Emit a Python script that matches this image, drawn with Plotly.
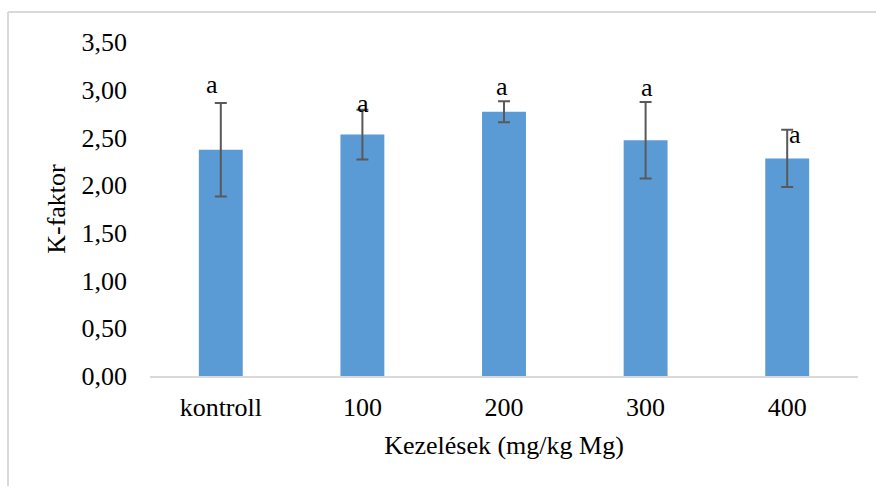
import plotly.graph_objects as go

categories = ["kontroll", "100", "200", "300", "400"]
k_factor = [2.37, 2.53, 2.77, 2.47, 2.28]
k_error = [0.49, 0.26, 0.11, 0.40, 0.30]
letters = ["a", "a", "a", "a", "a"]
letter_y = [3.05, 2.86, 3.03, 3.02, 2.53]
letter_dx = [-9, 1, -2, 1, 8]
y_ticks = [0, 0.5, 1.0, 1.5, 2.0, 2.5, 3.0, 3.5]
y_ticklabels = ["0,00", "0,50", "1,00", "1,50", "2,00", "2,50", "3,00", "3,50"]

W, H = 876, 486
ML, MR, MT, MB = 150, 18, 42, 110
FONT = "Liberation Serif, Times New Roman, serif"

fig = go.Figure()
fig.add_trace(go.Bar(
    x=categories, y=k_factor, width=0.31,
    marker=dict(color="#5B9BD5", line=dict(width=0)),
    error_y=dict(type="data", array=k_error, visible=True,
                 color="#595959", thickness=2, width=6),
    showlegend=False,
))

# annotations on a category axis: use the category index
for i, (t, yv, dx) in enumerate(zip(letters, letter_y, letter_dx)):
    fig.add_annotation(x=i, y=yv, text=t, showarrow=False, xshift=dx,
                       font=dict(family=FONT, size=26, color="#000000"))

pw = W - ML - MR
ph = H - MT - MB
x0 = (8 - ML) / pw
ytop = (H - MB - 12) / ph
ybot = (H - MB - H) / ph
fig.add_shape(type="line", xref="paper", yref="paper", x0=x0, x1=(W - ML) / pw,
              y0=ytop, y1=ytop, line=dict(color="#D9D9D9", width=2))
fig.add_shape(type="line", xref="paper", yref="paper", x0=x0, x1=x0,
              y0=ytop, y1=ybot, line=dict(color="#D9D9D9", width=2))

fig.update_layout(
    width=W, height=H,
    margin=dict(l=ML, r=MR, t=MT, b=MB, pad=0),
    paper_bgcolor="white", plot_bgcolor="white",
    font=dict(family=FONT, size=26, color="#000000"),
    xaxis=dict(
        type="category", categoryorder="array", categoryarray=categories,
        range=[-0.5, len(categories) - 0.5],
        showline=True, linecolor="#D9D9D9", linewidth=2,
        ticks="", showgrid=False, ticklabelstandoff=7,
        title=dict(text="Kezelések (mg/kg Mg)", standoff=15,
                   font=dict(family=FONT, size=26)),
        tickfont=dict(family=FONT, size=26),
    ),
    yaxis=dict(
        range=[0, 3.5], tickvals=y_ticks, ticktext=y_ticklabels,
        showline=False, showgrid=False, zeroline=False, ticks="",
        ticklabelstandoff=22,
        title=dict(text="K-faktor", standoff=8,
                   font=dict(family=FONT, size=26)),
        tickfont=dict(family=FONT, size=26),
    ),
)

fig.write_html("out.html")
